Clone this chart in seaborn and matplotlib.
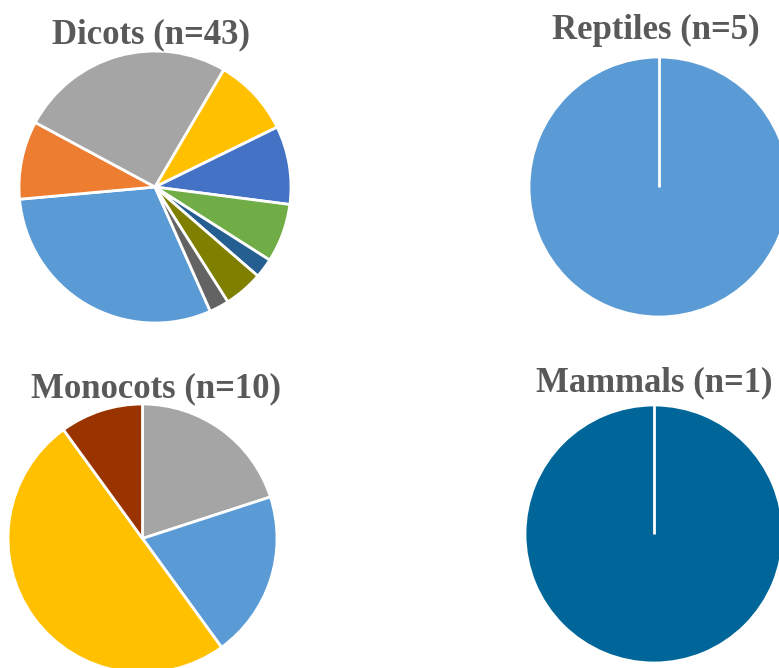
import matplotlib
matplotlib.use("Agg")
import matplotlib.pyplot as plt
import seaborn as sns
import numpy as np

sns.set_theme(style="white")
plt.rcParams["font.family"] = ["Liberation Serif", "DejaVu Serif"]

# Counts per group, listed clockwise
dicot_counts = [13, 4, 11, 4, 4, 3, 1, 2, 1]
dicot_colors = ["#5B9BD5", "#ED7D31", "#A5A5A5", "#FFC000", "#4472C4",
                "#70AD47", "#255E91", "#7F7F00", "#636363"]

monocot_counts = [2, 2, 5, 1]
monocot_colors = ["#A5A5A5", "#5B9BD5", "#FFC000", "#993300"]

reptile_counts = [5]
reptile_colors = ["#5B9BD5"]

mammal_counts = [1]
mammal_colors = ["#006699"]

titles = ["Dicots (n=43)", "Reptiles (n=5)", "Monocots (n=10)", "Mammals (n=1)"]

W, H = 779, 668
fig = plt.figure(figsize=(W / 100, H / 100), dpi=100)
fig.patch.set_facecolor("white")


def pie_axes(cx, cy, r):
    """Axes centred on (cx, cy) in pixels from top-left, radius r pixels."""
    ax = fig.add_axes([(cx - r) / W, 1 - (cy + r) / H, 2 * r / W, 2 * r / H])
    ax.set_xlim(-1, 1)
    ax.set_ylim(-1, 1)
    ax.set_aspect("equal")
    ax.axis("off")
    return ax


def draw_pie(ax, counts, colors, start_cw):
    # start_cw: clockwise degrees from 12 o'clock where the first slice begins
    start = 90 - start_cw
    ax.pie(counts, colors=sns.color_palette(colors), startangle=start,
           counterclock=False, radius=1,
           wedgeprops=dict(edgecolor="white", linewidth=2.0))
    if len(counts) == 1:
        a = np.deg2rad(start)
        ax.plot([0, np.cos(a)], [0, np.sin(a)], color="white", lw=2.0,
                solid_capstyle="butt")
    ax.set_xlim(-1, 1)
    ax.set_ylim(-1, 1)


ax1 = pie_axes(155, 187, 136)
draw_pie(ax1, dicot_counts, dicot_colors, 156)

ax2 = pie_axes(659, 187, 130)
draw_pie(ax2, reptile_counts, reptile_colors, 0)

ax3 = pie_axes(142.5, 538.5, 134.5)
draw_pie(ax3, monocot_counts, monocot_colors, 0)

ax4 = pie_axes(654, 534, 129)
draw_pie(ax4, mammal_counts, mammal_colors, 0)

title_pos = [(150.5, 43), (655.5, 39), (156, 397), (654, 391)]
for t, (x, y) in zip(titles, title_pos):
    fig.text(x / W, 1 - y / H, t, ha="center", va="baseline",
             fontsize=25, fontweight="bold", color="#595959")

fig.savefig("out.png", dpi=100, facecolor="white")
